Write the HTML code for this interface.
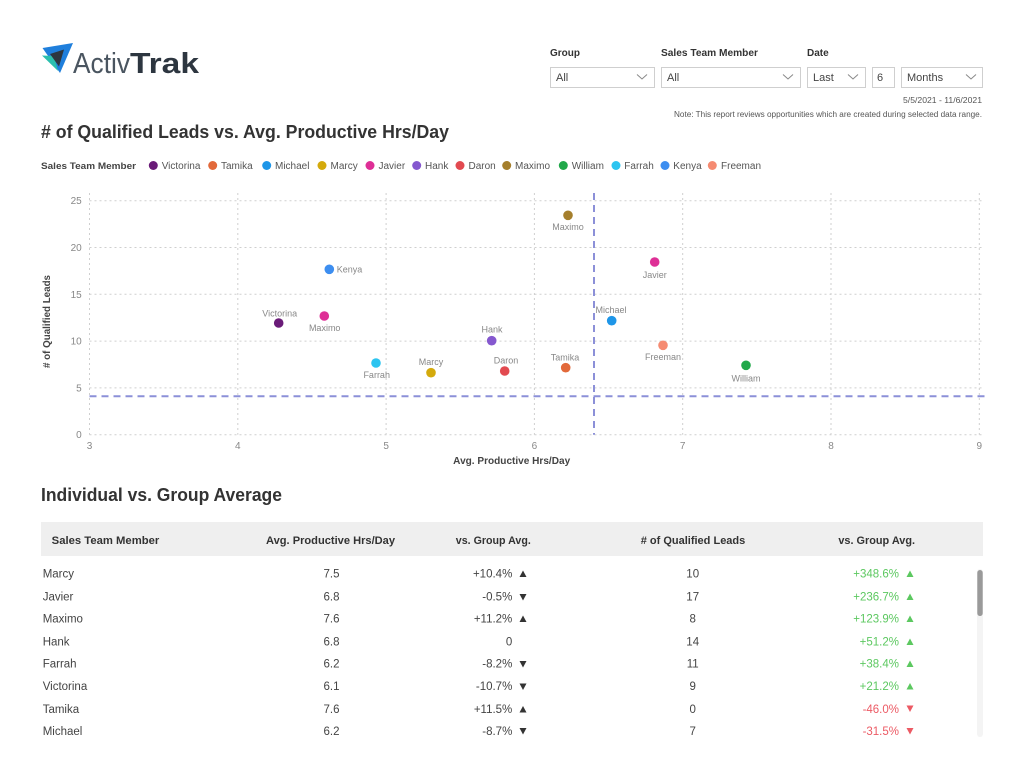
<!DOCTYPE html>
<html><head><meta charset="utf-8"><style>
html,body{margin:0;padding:0;background:#fff;}
svg{display:block;font-family:"Liberation Sans",Arial,sans-serif;}
</style></head><body>
<svg width="1024" height="778" viewBox="0 0 1024 778" xmlns="http://www.w3.org/2000/svg">
<rect width="1024" height="778" fill="#fff"/>
<!-- Logo -->
<polygon points="42.5,48 73,43 60,73" fill="#1f7fdc"/>
<polygon points="42,55.5 54,56 58,71" fill="#2bbfae"/>
<polygon points="50,54 64,49.5 59,66.5" fill="#2d3640"/>
<text x="73" y="73" font-size="29" fill="#4a5560" textLength="57" lengthAdjust="spacingAndGlyphs">Activ</text>
<text x="130" y="73" font-size="29" font-weight="bold" fill="#2d3640" textLength="69" lengthAdjust="spacingAndGlyphs">Trak</text>

<!-- Filters -->
<g font-size="10" font-weight="bold" fill="#333">
<text x="550" y="56">Group</text>
<text x="661" y="56" textLength="97" lengthAdjust="spacingAndGlyphs">Sales Team Member</text>
<text x="807" y="56">Date</text>
</g>
<g fill="#fff" stroke="#cfcfcf" stroke-width="1">
<rect x="550.5" y="67.5" width="104" height="20"/>
<rect x="661.5" y="67.5" width="139" height="20"/>
<rect x="807.5" y="67.5" width="58" height="20"/>
<rect x="872.5" y="67.5" width="22" height="20"/>
<rect x="901.5" y="67.5" width="81" height="20"/>
</g>
<g font-size="11" fill="#444">
<text x="556" y="81">All</text>
<text x="667" y="81">All</text>
<text x="813" y="81">Last</text>
<text x="877" y="81">6</text>
<text x="907" y="81">Months</text>
</g>
<g fill="none" stroke="#888" stroke-width="1">
<polyline points="637,74.5 642,79 647,74.5"/>
<polyline points="783,74.5 788,79 793,74.5"/>
<polyline points="848,74.5 853,79 858,74.5"/>
<polyline points="966,74.5 971,79 976,74.5"/>
</g>
<text x="982" y="103" font-size="8" fill="#555" text-anchor="end" textLength="79" lengthAdjust="spacingAndGlyphs">5/5/2021 - 11/6/2021</text>
<text x="982" y="117" font-size="8" fill="#555" text-anchor="end" textLength="308" lengthAdjust="spacingAndGlyphs">Note: This report reviews opportunities which are created during selected data range.</text>

<!-- Chart title -->
<text x="41" y="138" font-size="18" font-weight="bold" fill="#333" textLength="408" lengthAdjust="spacingAndGlyphs"># of Qualified Leads vs. Avg. Productive Hrs/Day</text>

<!-- Legend -->
<text x="41" y="169" font-size="9.5" font-weight="bold" fill="#444" textLength="95" lengthAdjust="spacingAndGlyphs">Sales Team Member</text>
<g font-size="10" fill="#555">
<circle cx="153.3" cy="165.5" r="4.5" fill="#6a1b78"/><text x="161.7" y="169">Victorina</text>
<circle cx="212.7" cy="165.5" r="4.5" fill="#e2693a"/><text x="221" y="169">Tamika</text>
<circle cx="266.7" cy="165.5" r="4.5" fill="#1e96e8"/><text x="275" y="169">Michael</text>
<circle cx="322" cy="165.5" r="4.5" fill="#d4aa0c"/><text x="330.5" y="169">Marcy</text>
<circle cx="370" cy="165.5" r="4.5" fill="#de2f96"/><text x="378.5" y="169">Javier</text>
<circle cx="416.7" cy="165.5" r="4.5" fill="#8558cf"/><text x="425" y="169">Hank</text>
<circle cx="460" cy="165.5" r="4.5" fill="#e24a50"/><text x="468.5" y="169">Daron</text>
<circle cx="506.7" cy="165.5" r="4.5" fill="#a57f2c"/><text x="515" y="169">Maximo</text>
<circle cx="563.3" cy="165.5" r="4.5" fill="#21a84a"/><text x="571.7" y="169">William</text>
<circle cx="616" cy="165.5" r="4.5" fill="#2cc4f0"/><text x="624.3" y="169">Farrah</text>
<circle cx="665" cy="165.5" r="4.5" fill="#3d8ef0"/><text x="673.3" y="169">Kenya</text>
<circle cx="712.3" cy="165.5" r="4.5" fill="#f58b72"/><text x="721" y="169">Freeman</text>
</g>

<!-- Grid -->
<g stroke="#cfcfcf" stroke-width="1" stroke-dasharray="2,3" fill="none">
<line x1="89.5" y1="200.7" x2="983" y2="200.7"/>
<line x1="89.5" y1="247.5" x2="983" y2="247.5"/>
<line x1="89.5" y1="294.3" x2="983" y2="294.3"/>
<line x1="89.5" y1="341.1" x2="983" y2="341.1"/>
<line x1="89.5" y1="387.9" x2="983" y2="387.9"/>
<line x1="89.5" y1="434.7" x2="983" y2="434.7"/>
<line x1="89.5" y1="193" x2="89.5" y2="434.7"/>
<line x1="237.8" y1="193" x2="237.8" y2="434.7"/>
<line x1="386.1" y1="193" x2="386.1" y2="434.7"/>
<line x1="534.4" y1="193" x2="534.4" y2="434.7"/>
<line x1="682.7" y1="193" x2="682.7" y2="434.7"/>
<line x1="831" y1="193" x2="831" y2="434.7"/>
<line x1="979.3" y1="193" x2="979.3" y2="434.7"/>
</g>
<!-- Ticks -->
<g font-size="10" fill="#888" text-anchor="end">
<text x="81.7" y="204.2">25</text>
<text x="81.7" y="251">20</text>
<text x="81.7" y="297.8">15</text>
<text x="81.7" y="344.6">10</text>
<text x="81.7" y="391.4">5</text>
<text x="81.7" y="438.2">0</text>
</g>
<g font-size="10" fill="#888" text-anchor="middle">
<text x="89.5" y="449">3</text>
<text x="237.8" y="449">4</text>
<text x="386.1" y="449">5</text>
<text x="534.4" y="449">6</text>
<text x="682.7" y="449">7</text>
<text x="831" y="449">8</text>
<text x="979.3" y="449">9</text>
</g>
<text x="511.7" y="464" font-size="10" font-weight="bold" fill="#444" text-anchor="middle" textLength="117" lengthAdjust="spacingAndGlyphs">Avg. Productive Hrs/Day</text>
<text transform="translate(50,321.5) rotate(-90)" x="0" y="0" font-size="10" font-weight="bold" fill="#444" text-anchor="middle" textLength="93" lengthAdjust="spacingAndGlyphs"># of Qualified Leads</text>

<!-- Mean lines -->
<g stroke="#8c90d8" stroke-width="2" stroke-dasharray="7,5" fill="none">
<line x1="89.5" y1="396.3" x2="985" y2="396.3"/>
<line x1="594" y1="193" x2="594" y2="434.7"/>
</g>

<!-- Points -->
<circle cx="278.7" cy="323" r="4.8" fill="#6a1b78"/>
<circle cx="329.3" cy="269.3" r="4.8" fill="#3d8ef0"/>
<circle cx="324.3" cy="316" r="4.8" fill="#de2f96"/>
<circle cx="376" cy="363" r="4.8" fill="#2cc4f0"/>
<circle cx="431" cy="372.7" r="4.8" fill="#d4aa0c"/>
<circle cx="491.7" cy="340.7" r="4.8" fill="#8558cf"/>
<circle cx="504.7" cy="371" r="4.8" fill="#e24a50"/>
<circle cx="568" cy="215.3" r="4.8" fill="#a57f2c"/>
<circle cx="565.7" cy="367.7" r="4.8" fill="#e2693a"/>
<circle cx="611.7" cy="320.7" r="4.8" fill="#1e96e8"/>
<circle cx="654.7" cy="262" r="4.8" fill="#de2f96"/>
<circle cx="663" cy="345.3" r="4.8" fill="#f58b72"/>
<circle cx="746" cy="365.3" r="4.8" fill="#21a84a"/>
<g font-size="9" fill="#888" text-anchor="middle">
<text x="336.7" y="272.3" text-anchor="start">Kenya</text>
<text x="279.7" y="316.5">Victorina</text>
<text x="324.7" y="331">Maximo</text>
<text x="376.7" y="378">Farrah</text>
<text x="431" y="365">Marcy</text>
<text x="492" y="332.5">Hank</text>
<text x="506" y="363.5">Daron</text>
<text x="568" y="230">Maximo</text>
<text x="654.7" y="278">Javier</text>
<text x="611" y="313">Michael</text>
<text x="565" y="360.5">Tamika</text>
<text x="663" y="360">Freeman</text>
<text x="746" y="381.5">William</text>
</g>

<!-- Table -->
<text x="41" y="501" font-size="18" font-weight="bold" fill="#333" textLength="241" lengthAdjust="spacingAndGlyphs">Individual vs. Group Average</text>
<rect x="41" y="522" width="942" height="34" fill="#efefef"/>
<g font-size="11" font-weight="bold" fill="#333">
<text x="51.7" y="544" textLength="107.6" lengthAdjust="spacingAndGlyphs">Sales Team Member</text>
<text x="330.5" y="544" text-anchor="middle" textLength="129" lengthAdjust="spacingAndGlyphs">Avg. Productive Hrs/Day</text>
<text x="493.3" y="544" text-anchor="middle" textLength="75" lengthAdjust="spacingAndGlyphs">vs. Group Avg.</text>
<text x="693" y="544" text-anchor="middle" textLength="104.6" lengthAdjust="spacingAndGlyphs"># of Qualified Leads</text>
<text x="876.7" y="544" text-anchor="middle" textLength="76.7" lengthAdjust="spacingAndGlyphs">vs. Group Avg.</text>
</g>
<g font-size="11.5" fill="#444">
<text x="42.7" y="577.5">Marcy</text>
<text x="42.7" y="600.5">Javier</text>
<text x="42.7" y="622.5">Maximo</text>
<text x="42.7" y="645.5">Hank</text>
<text x="42.7" y="667.5">Farrah</text>
<text x="42.7" y="690">Victorina</text>
<text x="42.7" y="713">Tamika</text>
<text x="42.7" y="735">Michael</text>
</g>
<g font-size="11.5" fill="#444" text-anchor="middle">
<text x="331.5" y="577.5">7.5</text>
<text x="331.5" y="600.5">6.8</text>
<text x="331.5" y="622.5">7.6</text>
<text x="331.5" y="645.5">6.8</text>
<text x="331.5" y="667.5">6.2</text>
<text x="331.5" y="690">6.1</text>
<text x="331.5" y="713">7.6</text>
<text x="331.5" y="735">6.2</text>
<text x="692.7" y="577.5">10</text>
<text x="692.7" y="600.5">17</text>
<text x="692.7" y="622.5">8</text>
<text x="692.7" y="645.5">14</text>
<text x="692.7" y="667.5">11</text>
<text x="692.7" y="690">9</text>
<text x="692.7" y="713">0</text>
<text x="692.7" y="735">7</text>
</g>
<g font-size="11.5" fill="#444" text-anchor="end">
<text x="512.3" y="577.5">+10.4%</text>
<text x="512.3" y="600.5">-0.5%</text>
<text x="512.3" y="622.5">+11.2%</text>
<text x="512.3" y="645.5">0</text>
<text x="512.3" y="667.5">-8.2%</text>
<text x="512.3" y="690">-10.7%</text>
<text x="512.3" y="713">+11.5%</text>
<text x="512.3" y="735">-8.7%</text>
</g>
<g fill="#333">
<polygon points="519.5,577 526.5,577 523,570.5"/>
<polygon points="519.5,594 526.5,594 523,600.5"/>
<polygon points="519.5,622 526.5,622 523,615.5"/>
<polygon points="519.5,661 526.5,661 523,667.5"/>
<polygon points="519.5,683.5 526.5,683.5 523,690"/>
<polygon points="519.5,712.5 526.5,712.5 523,706"/>
<polygon points="519.5,728 526.5,728 523,734.5"/>
</g>
<g font-size="11.5" text-anchor="end">
<text x="899" y="577.5" fill="#5cc860">+348.6%</text>
<text x="899" y="600.5" fill="#5cc860">+236.7%</text>
<text x="899" y="622.5" fill="#5cc860">+123.9%</text>
<text x="899" y="645.5" fill="#5cc860">+51.2%</text>
<text x="899" y="667.5" fill="#5cc860">+38.4%</text>
<text x="899" y="690" fill="#5cc860">+21.2%</text>
<text x="899" y="713" fill="#ec5a64">-46.0%</text>
<text x="899" y="735" fill="#ec5a64">-31.5%</text>
</g>
<g fill="#5cc860">
<polygon points="906.5,577 913.5,577 910,570.5"/>
<polygon points="906.5,600 913.5,600 910,593.5"/>
<polygon points="906.5,622 913.5,622 910,615.5"/>
<polygon points="906.5,645 913.5,645 910,638.5"/>
<polygon points="906.5,667 913.5,667 910,660.5"/>
<polygon points="906.5,689.5 913.5,689.5 910,683"/>
</g>
<g fill="#ec5a64">
<polygon points="906.5,705.5 913.5,705.5 910,712"/>
<polygon points="906.5,728 913.5,728 910,734.5"/>
</g>
<!-- Scrollbar -->
<rect x="977" y="569" width="6" height="168" rx="3" fill="#f4f4f4"/>
<rect x="977.3" y="570" width="5.4" height="46" rx="2.7" fill="#9a9a9a"/>
</svg>
</body></html>
